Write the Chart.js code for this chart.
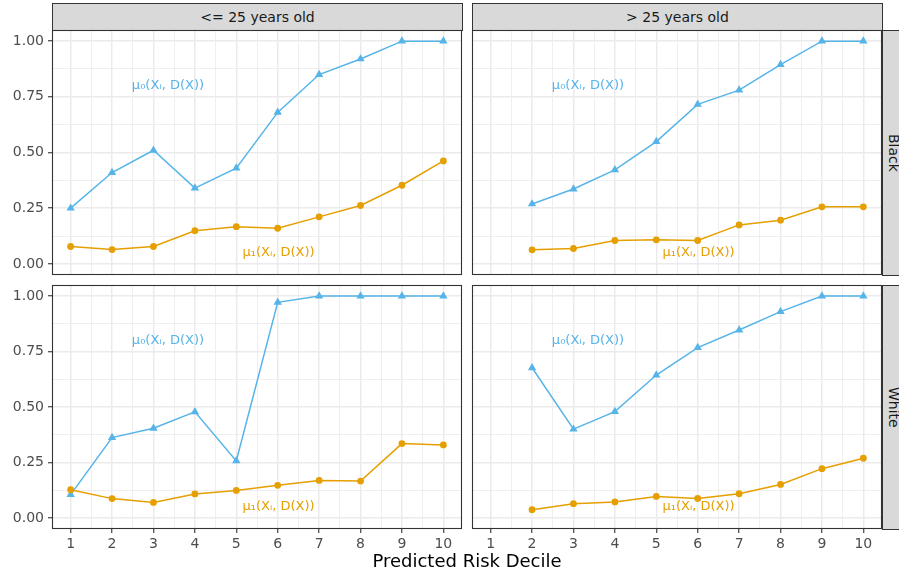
<!DOCTYPE html>
<html>
<head>
<meta charset="utf-8">
<script src="https://cdn.jsdelivr.net/npm/chart.js@4.4.1/dist/chart.umd.min.js"></script>
<style>
    body { margin: 0; background: #fff; font-family: "DejaVu Sans", sans-serif; }
    #wrap { position: relative; width: 899px; height: 575px; overflow: hidden; background: #fff; }
    canvas { position: absolute; }
    .strip {
        position: absolute; box-sizing: border-box;
        background: #d9d9d9; border: 1px solid #333; color: #1a1a1a;
        font-size: 14px; display: flex; align-items: center; justify-content: center;
    }
    .strip.row { writing-mode: vertical-rl; }
    #xtitle { position: absolute; left: 52px; width: 830px; top: 550px; text-align: center; font-size: 18px; color: #000; }
</style>
</head>
<body>
<div id="wrap">
    <div class="strip" style="left:52px;top:3px;width:411px;height:28px;">&lt;= 25 years old</div>
    <div class="strip" style="left:472px;top:3px;width:411px;height:28px;">&gt; 25 years old</div>
    <div class="strip row" style="left:882px;top:30px;width:24px;height:246px;">Black</div>
    <div class="strip row" style="left:882px;top:285px;width:24px;height:245px;">White</div>

    <canvas id="c-black-young" width="464" height="249" style="left:0;top:28px;"></canvas>
    <canvas id="c-black-old"   width="414" height="249" style="left:470px;top:28px;"></canvas>
    <canvas id="c-white-young" width="464" height="276" style="left:0;top:283px;"></canvas>
    <canvas id="c-white-old"   width="414" height="276" style="left:470px;top:283px;"></canvas>

    <div id="xtitle">Predicted Risk Decile</div>
</div>
<script>
const BLUE   = '#56B4E9';
const ORANGE = '#E69F00';
const FONT   = '"DejaVu Sans", sans-serif';

const DECILES = [1, 2, 3, 4, 5, 6, 7, 8, 9, 10];
const X_TICKS = [1, 1.5, 2, 2.5, 3, 3.5, 4, 4.5, 5, 5.5, 6, 6.5, 7, 7.5, 8, 8.5, 9, 9.5, 10];
const Y_TICKS = [0, 0.125, 0.25, 0.375, 0.5, 0.625, 0.75, 0.875, 1];

// mu0 = triangles (blue), mu1 = circles (orange)
const BLACK_YOUNG_MU0 = [0.25, 0.41, 0.51, 0.34, 0.43, 0.68, 0.85, 0.92, 1.00, 1.00];
const BLACK_YOUNG_MU1 = [0.078, 0.064, 0.078, 0.149, 0.167, 0.160, 0.211, 0.262, 0.353, 0.462];
const BLACK_OLD_MU0   = [null, 0.269, 0.336, 0.422, 0.549, 0.716, 0.780, 0.895, 1.00, 1.00];
const BLACK_OLD_MU1   = [null, 0.063, 0.069, 0.105, 0.108, 0.105, 0.175, 0.196, 0.256, 0.256];
const WHITE_YOUNG_MU0 = [0.105, 0.362, 0.404, 0.478, 0.257, 0.972, 1.00, 1.00, 1.00, 1.00];
const WHITE_YOUNG_MU1 = [0.127, 0.087, 0.070, 0.108, 0.124, 0.147, 0.169, 0.166, 0.335, 0.329];
const WHITE_OLD_MU0   = [null, 0.677, 0.400, 0.479, 0.644, 0.768, 0.847, 0.930, 1.00, 1.00];
const WHITE_OLD_MU1   = [null, 0.037, 0.064, 0.072, 0.097, 0.088, 0.109, 0.151, 0.222, 0.269];

// in-panel labels, placed in data coordinates
const LABEL_TEXT  = ['μ₀(Xᵢ, D(X))', 'μ₁(Xᵢ, D(X))'];
const LABEL_X     = [3.35, 6.02];
const LABEL_Y     = [0.80, 0.05];
const LABEL_COLOR = [BLUE, ORANGE];

const isMajorX = v => Number.isInteger(v);
const isMajorY = v => Math.abs(v * 4 - Math.round(v * 4)) < 1e-9;

const panelDecor = {
    id: 'panelDecor',
    afterDatasetsDraw(chart) {
        const { ctx, chartArea: a, scales: { x, y } } = chart;
        ctx.save();
        ctx.font = '13px ' + FONT;
        ctx.textAlign = 'center';
        ctx.textBaseline = 'middle';
        LABEL_TEXT.forEach((t, i) => {
            ctx.fillStyle = LABEL_COLOR[i];
            ctx.fillText(t, x.getPixelForValue(LABEL_X[i]), y.getPixelForValue(LABEL_Y[i]));
        });
        ctx.strokeStyle = '#333333';
        ctx.lineWidth = 1.1;
        ctx.strokeRect(a.left + 0.5, a.top + 0.5, a.right - a.left - 1, a.bottom - a.top - 1);
        ctx.restore();
    },
};

function series(values, color, style, radius) {
    return {
        data: DECILES.map((d, i) => ({ x: d, y: values[i] })),
        borderColor: color,
        backgroundColor: color,
        borderWidth: 1.5,
        pointStyle: style,
        pointRadius: radius,
        pointBorderWidth: 0,
        tension: 0,
    };
}

function noPad(s) {
    s.paddingLeft = s.paddingRight = s.paddingTop = s.paddingBottom = 0;
}

function makePanel(id, mu0, mu1, showY, showX) {
    return new Chart(document.getElementById(id), {
        type: 'line',
        data: {
            datasets: [
                series(mu1, ORANGE, 'circle', 3.4),
                series(mu0, BLUE, 'triangle', 4.8),
            ],
        },
        plugins: [panelDecor],
        options: {
            responsive: false,
            animation: false,
            events: [],
            layout: {
                autoPadding: false,
                padding: { top: 2, right: 2, bottom: showX ? 0 : 2, left: showY ? 0 : 2 },
            },
            plugins: { legend: { display: false }, tooltip: { enabled: false } },
            scales: {
                x: {
                    type: 'linear',
                    min: 0.55,
                    max: 10.45,
                    afterBuildTicks: s => { s.ticks = X_TICKS.map(v => ({ value: v })); },
                    afterFit: s => { s.height = showX ? 30 : 0; noPad(s); },
                    border: { display: false },
                    grid: {
                        color: '#ebebeb',
                        lineWidth: c => isMajorX(c.tick.value) ? 1.5 : 0.8,
                        drawTicks: showX,
                        tickLength: 4,
                        tickColor: c => isMajorX(c.tick.value) ? '#333333' : 'rgba(0,0,0,0)',
                        tickWidth: 1.1,
                    },
                    ticks: {
                        display: showX,
                        autoSkip: false,
                        maxRotation: 0,
                        padding: 3,
                        color: '#4d4d4d',
                        font: { family: FONT, size: 14 },
                        callback: v => isMajorX(v) ? String(v) : '',
                    },
                },
                y: {
                    type: 'linear',
                    min: -0.05,
                    max: 1.05,
                    afterBuildTicks: s => { s.ticks = Y_TICKS.map(v => ({ value: v })); },
                    afterFit: s => { s.width = showY ? 52 : 0; noPad(s); },
                    border: { display: false },
                    grid: {
                        color: '#ebebeb',
                        lineWidth: c => isMajorY(c.tick.value) ? 1.5 : 0.8,
                        drawTicks: showY,
                        tickLength: 4,
                        tickColor: c => isMajorY(c.tick.value) ? '#333333' : 'rgba(0,0,0,0)',
                        tickWidth: 1.1,
                    },
                    ticks: {
                        display: showY,
                        autoSkip: false,
                        padding: 4,
                        color: '#4d4d4d',
                        font: { family: FONT, size: 14 },
                        callback: v => isMajorY(v) ? v.toFixed(2) : '',
                    },
                },
            },
        },
    });
}

makePanel('c-black-young', BLACK_YOUNG_MU0, BLACK_YOUNG_MU1, true,  false);
makePanel('c-black-old',   BLACK_OLD_MU0,   BLACK_OLD_MU1,   false, false);
makePanel('c-white-young', WHITE_YOUNG_MU0, WHITE_YOUNG_MU1, true,  true);
makePanel('c-white-old',   WHITE_OLD_MU0,   WHITE_OLD_MU1,   false, true);
</script>
</body>
</html>
